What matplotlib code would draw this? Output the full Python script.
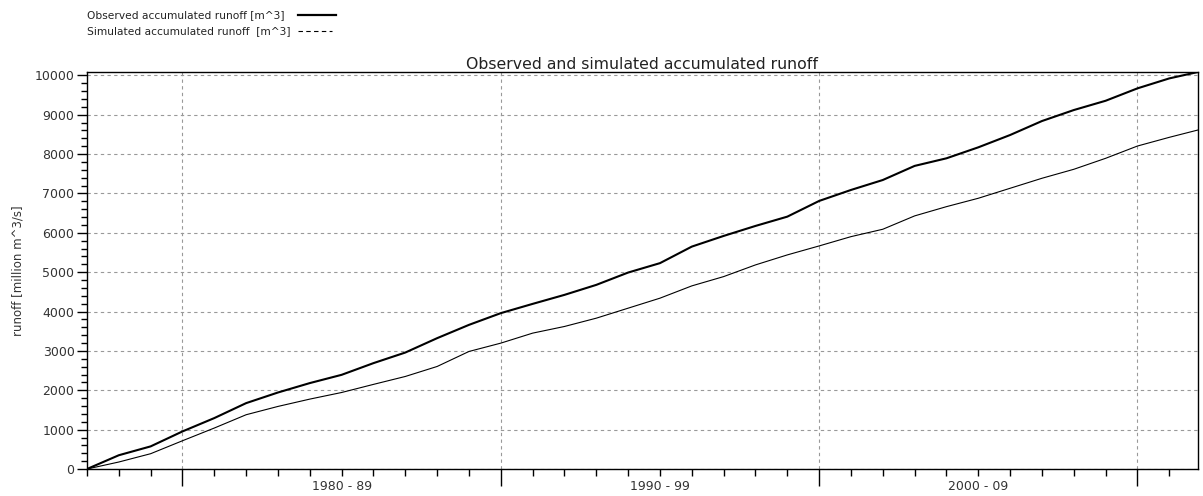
import numpy as np
import matplotlib.pyplot as plt
from matplotlib.lines import Line2D
from matplotlib.ticker import MultipleLocator, FixedLocator, NullFormatter

plt.rcParams['font.family'] = ['DejaVu Sans']

# accumulated runoff [million m^3], sampled once a year
years = [1977, 1978, 1979, 1980, 1981, 1982, 1983, 1984, 1985, 1986,
         1987, 1988, 1989, 1990, 1991, 1992, 1993, 1994, 1995, 1996,
         1997, 1998, 1999, 2000, 2001, 2002, 2003, 2004, 2005, 2006,
         2007, 2008, 2009, 2010, 2011, 2011.9]
observed = [0, 350, 575, 955, 1294, 1674, 1944, 2183, 2393, 2690,
            2959, 3324, 3662, 3960, 4195, 4424, 4678, 4991, 5230, 5650,
            5921, 6175, 6411, 6810, 7089, 7342, 7700, 7893, 8172, 8485,
            8840, 9119, 9355, 9670, 9923, 10085]
simulated = [0, 178, 389, 718, 1041, 1379, 1590, 1776, 1944, 2150,
             2351, 2605, 2986, 3198, 3452, 3621, 3832, 4086, 4340, 4652,
             4888, 5185, 5439, 5667, 5903, 6091, 6430, 6665, 6878, 7132,
             7386, 7614, 7893, 8205, 8426, 8612]

decade_labels = ['1980 - 89', '1990 - 99', '2000 - 09']
decade_mid = [1985, 1995, 2005]

fig = plt.figure(figsize=(12.03, 4.96), dpi=100)
ax = fig.add_axes([0.0723, 0.0544, 0.9235, 0.8004])

ax.plot(years, observed, color='black', lw=1.5)
ax.plot(years, simulated, color='black', lw=0.8)

ax.set_xlim(1977, 2011.9)
ax.set_ylim(0, 10085)

ax.xaxis.set_major_locator(FixedLocator([1980, 1990, 2000, 2010]))
ax.xaxis.set_minor_locator(MultipleLocator(1))
ax.xaxis.set_major_formatter(NullFormatter())
ax.yaxis.set_major_locator(MultipleLocator(1000))
ax.yaxis.set_minor_locator(MultipleLocator(200))

ax.tick_params(axis='x', which='major', length=12, width=1, direction='out')
ax.tick_params(axis='x', which='minor', length=5, width=1, direction='out')
ax.tick_params(axis='y', which='major', length=7, width=1, direction='out',
               labelsize=9, pad=2)
ax.tick_params(axis='y', which='minor', length=4, width=1, direction='out')

ax.grid(True, which='major', color='#999999', linestyle=(0, (3, 3)), lw=0.8)

for x, lab in zip(decade_mid, decade_labels):
    ax.text(x, -0.028, lab, transform=ax.get_xaxis_transform(),
            ha='center', va='top', fontsize=9, color='#333333')

for s in ax.spines.values():
    s.set_linewidth(1)
ax.tick_params(labelcolor='#333333')

ax.set_title('Observed and simulated accumulated runoff', fontsize=11.3,
             color='#222222', pad=2)
ax.set_ylabel('runoff [million m^3/s]', fontsize=8.5, color='#333333',
              labelpad=7)

# legend drawn by hand in the top left corner
fig.text(0.0723, 0.969, 'Observed accumulated runoff [m^3]', fontsize=7.7,
         va='center', ha='left', color='#222222')
fig.text(0.0723, 0.937, 'Simulated accumulated runoff  [m^3]', fontsize=7.7,
         va='center', ha='left', color='#222222')
fig.add_artist(Line2D([0.248, 0.279], [0.969, 0.969], color='black', lw=1.6,
                      transform=fig.transFigure))
fig.add_artist(Line2D([0.248, 0.276], [0.937, 0.937], color='black', lw=0.8,
                      linestyle=(0, (4, 3)), transform=fig.transFigure))

fig.savefig('out.png', dpi=100)
